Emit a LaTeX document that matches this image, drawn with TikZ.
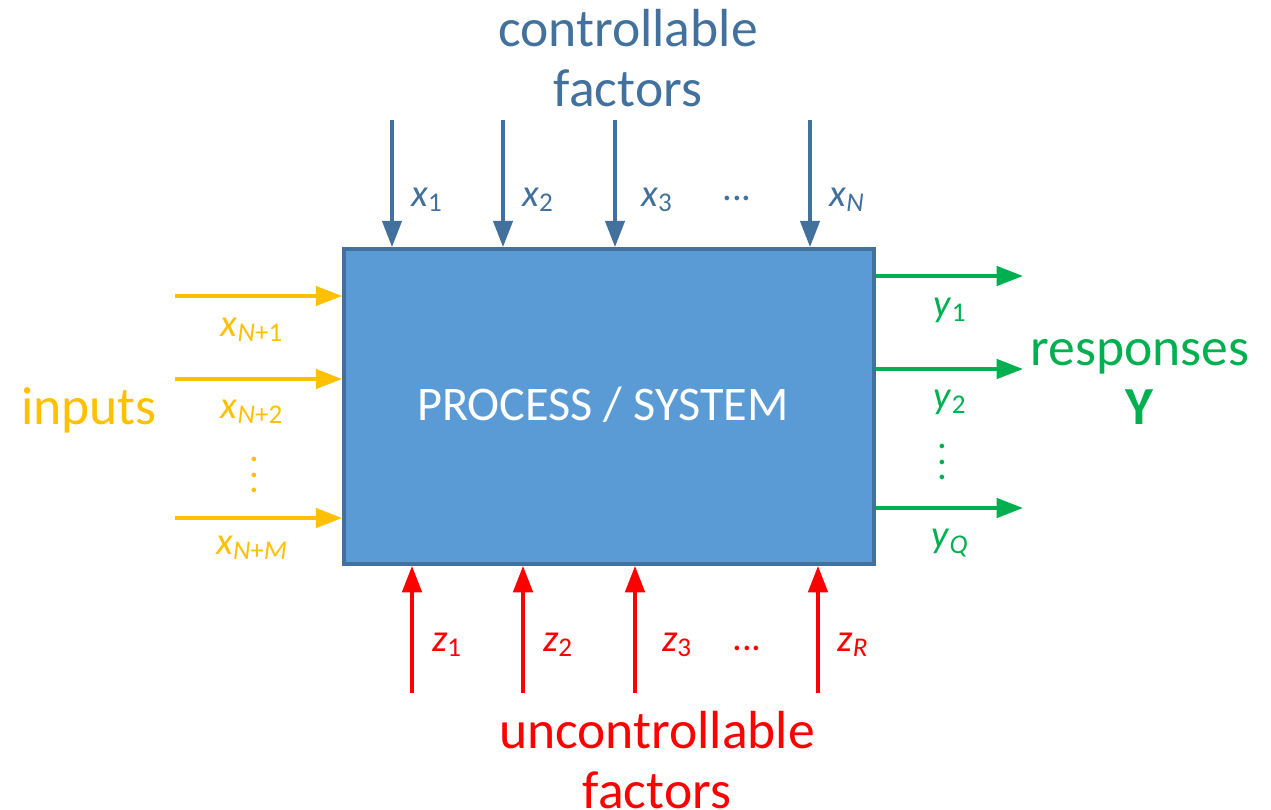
\documentclass[tikz,border=0pt]{standalone}
\usepackage{fontspec}
\setmainfont{Carlito}
\usetikzlibrary{arrows.meta}

\definecolor{ctrlblue}{HTML}{41719C}
\definecolor{boxfill}{HTML}{5B9BD5}
\definecolor{inyellow}{HTML}{FFC000}
\definecolor{outgreen}{HTML}{00B050}
\definecolor{noisered}{HTML}{FF0000}

\newcommand{\var}[2]{\textit{#1}\textsubscript{#2}}
\newcommand{\dotcol}{\vbox{\baselineskip=9pt\lineskiplimit=0pt\hbox{.}\hbox{.}\hbox{.}}}

\tikzset{
    flow/.style={line width=2.1pt, -{Triangle[length=15pt,width=11pt]}},
    lbl/.style={font=\fontsize{22}{26}\selectfont, inner sep=0pt},
    big/.style={font=\fontsize{30.5}{34}\selectfont, align=center, inner sep=0pt}
}

\begin{document}
\begin{tikzpicture}[x=0.02cm,y=-0.02cm]
        \useasboundingbox (0,0) rectangle (1271,809);

        % the process
        \node[draw=ctrlblue, fill=boxfill, line width=2.2pt, minimum width=10.6cm,
              minimum height=6.3cm, inner sep=0pt] (box) at (609,406.5) {};
        \node[text=white, font=\fontsize{27.5}{33}\selectfont] (proc) at (603,405) {PROCESS / SYSTEM};

        % controllable factors
        \node[big, text=ctrlblue] (ctrl) at (628,58) {controllable\\factors};
        \coordinate (c1) at (392,120);
        \coordinate (c2) at (503,120);
        \coordinate (c3) at (615,120);
        \coordinate (cN) at (810,120);
        \foreach \c in {c1,c2,c3,cN}
            \draw[flow, ctrlblue] (\c) -- (\c |- box.north);
        \node[lbl, text=ctrlblue] (x1) at (427,200) {\var{x}{1}};
        \node[lbl, text=ctrlblue] (x2) at (538,200) {\var{x}{2}};
        \node[lbl, text=ctrlblue] (x3) at (657,200) {\var{x}{3}};
        \node[lbl, text=ctrlblue] (xd) at (737,198) {...};
        \node[lbl, text=ctrlblue] (xN) at (847,200) {\var{x}{\textit{N}}};

        % inputs
        \node[big, text=inyellow] (inp) at (89,410) {inputs};
        \coordinate (i1) at (175,296);
        \coordinate (i2) at (175,379);
        \coordinate (iM) at (175,518);
        \foreach \i in {i1,i2,iM}
            \draw[flow, inyellow] (\i) -- (\i -| box.west);
        \node[lbl, text=inyellow] (xN1) at (252,330) {\var{x}{\textit{N}+1}};
        \node[lbl, text=inyellow] (xN2) at (252,412) {\var{x}{\textit{N}+2}};
        \node[lbl, text=inyellow] (xvd) at (254,475) {\dotcol};
        \node[lbl, text=inyellow] (xNM) at (252,548) {\var{x}{\textit{N}+\textit{M}}};

        % responses
        \node[big, text=outgreen] (resp) at (1140,382) {responses\\\textbf{Y}};
        \coordinate (o1) at (1023,276);
        \coordinate (o2) at (1023,369);
        \coordinate (oQ) at (1023,508);
        \foreach \o in {o1,o2,oQ}
            \draw[flow, outgreen] (\o -| box.east) -- (\o);
        \node[lbl, text=outgreen] (y1) at (950,310) {\var{y}{1}};
        \node[lbl, text=outgreen] (y2) at (950,402) {\var{y}{2}};
        \node[lbl, text=outgreen] (yvd) at (942,462) {\dotcol};
        \node[lbl, text=outgreen] (yQ) at (950,543) {\var{y}{\textit{Q}}};

        % uncontrollable factors
        \node[big, text=noisered] (unc) at (657,760) {uncontrollable\\factors};
        \coordinate (u1) at (412,693);
        \coordinate (u2) at (523,693);
        \coordinate (u3) at (635,693);
        \coordinate (uR) at (818,693);
        \foreach \u in {u1,u2,u3,uR}
            \draw[flow, noisered] (\u) -- (\u |- box.south);
        \node[lbl, text=noisered] (z1) at (447,645) {\var{z}{1}};
        \node[lbl, text=noisered] (z2) at (558,645) {\var{z}{2}};
        \node[lbl, text=noisered] (z3) at (677,645) {\var{z}{3}};
        \node[lbl, text=noisered] (zd) at (747,648) {...};
        \node[lbl, text=noisered] (zR) at (853,645) {\var{z}{\textit{R}}};
\end{tikzpicture}
\end{document}
